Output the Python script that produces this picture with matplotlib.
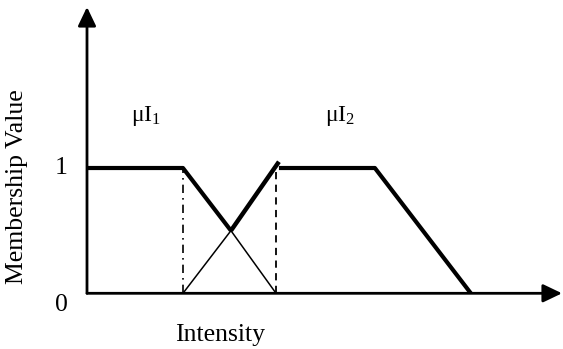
import matplotlib.pyplot as plt

plt.rcParams['font.family'] = ['Liberation Serif', 'DejaVu Serif']
plt.rcParams['mathtext.fontset'] = 'custom'
plt.rcParams['mathtext.rm'] = 'Liberation Serif'
plt.rcParams['mathtext.it'] = 'Liberation Serif:italic'

# membership function I1: thick part down to the crossing, thin part after it
i1_thick_x = [0, 1, 1.5]
i1_thick_y = [1, 1, 0.5]
i1_thin_x = [1.5, 1.97]
i1_thin_y = [0.5, 0]

# membership function I2: thin rising part up to the crossing, thick rest
i2_thin_x = [1, 1.5]
i2_thin_y = [0, 0.5]
i2_thick_x = [1.5, 2.0, 2.0, 3.0, 4.0]
i2_thick_y = [0.5, 1.05, 1, 1, 0]

x_max = 4.95
y_max = 2.285

fig = plt.figure(figsize=(5.63, 3.49), dpi=100)
ax = fig.add_axes([87 / 563, (349 - 293.3) / 349, (562 - 87) / 563, (293.3 - 7) / 349])
ax.set_xlim(0, x_max)
ax.set_ylim(0, y_max)
for s in ax.spines.values():
    s.set_visible(False)
ax.set_xticks([])
ax.set_yticks([])
ax.patch.set_alpha(0)

# axes with arrows
arrow = dict(arrowstyle='-|>,head_length=1.15,head_width=0.55', lw=2, color='k',
             mutation_scale=10, shrinkA=0, shrinkB=0)
ax.annotate('', xy=(x_max, 0), xytext=(0, 0), arrowprops=arrow, annotation_clip=False)
ax.annotate('', xy=(0, y_max), xytext=(0, 0), arrowprops=arrow, annotation_clip=False)

ax.plot(i1_thick_x, i1_thick_y, 'k', lw=3, solid_capstyle='butt', clip_on=False)
ax.plot(i1_thin_x, i1_thin_y, 'k', lw=1.1)
ax.plot(i2_thin_x, i2_thin_y, 'k', lw=1.1)
ax.plot(i2_thick_x[:2], i2_thick_y[:2], 'k', lw=3.2, solid_capstyle='butt')
ax.plot(i2_thick_x[2:], i2_thick_y[2:], 'k', lw=3, solid_capstyle='butt')

ax.plot([1, 1], [0, 1], 'k', lw=1.2, linestyle=(0, (5, 3, 1, 3)))
ax.plot([1.97, 1.97], [0, 1], 'k', lw=1.3, linestyle=(0, (4, 3)))

ax.text(0.62, 1.377, r'$\mathrm{\mu I}_1$', fontsize=17, ha='center', va='baseline')
ax.text(2.64, 1.377, r'$\mathrm{\mu I}_2$', fontsize=17, ha='center', va='baseline')

ax.text(-0.27, 1, '1', fontsize=18.5, ha='center', va='center')
ax.text(-0.27, -0.09, '0', fontsize=18.5, ha='center', va='center')

fig.text(220.5 / 563, 1 - 341 / 349, 'Intensity', fontsize=18.5, ha='center', va='baseline')
fig.text(17 / 563, 1 - 187 / 349, 'Membership Value', fontsize=18.5, ha='center', va='center',
         rotation=90)

fig.savefig('out.png', dpi=100)
